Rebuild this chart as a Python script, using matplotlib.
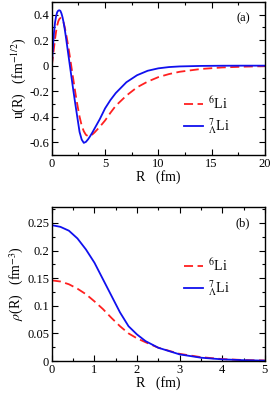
import numpy as np
import matplotlib
matplotlib.use('Agg')
import matplotlib.pyplot as plt
from matplotlib.ticker import MultipleLocator

# radial wave function u(R)
r_u = [0, 0.1, 0.2, 0.3, 0.4, 0.5, 0.6, 0.7, 0.8, 0.9, 1.0, 1.1, 1.2, 1.3, 1.4,
       1.5, 1.6, 1.7, 1.8, 1.9, 2.0, 2.2, 2.4, 2.6, 2.8, 3.0, 3.2, 3.4, 3.6, 3.8,
       4.0, 4.5, 5.0, 5.5, 6.0, 7.0, 8.0, 9.0, 10.0, 11.0, 12.0, 14.0, 16.0,
       18.0, 20.0]
u_li6 = [0, 0.07, 0.14, 0.21, 0.27, 0.315, 0.348, 0.366, 0.374, 0.372, 0.36,
         0.338, 0.305, 0.265, 0.22, 0.17, 0.12, 0.065, 0.01, -0.045, -0.10,
         -0.21, -0.31, -0.40, -0.47, -0.515, -0.543, -0.553, -0.55, -0.54,
         -0.525, -0.48, -0.43, -0.37, -0.315, -0.235, -0.17, -0.125, -0.09,
         -0.066, -0.048, -0.026, -0.014, -0.008, -0.004]
u_li7 = [0, 0.14, 0.26, 0.34, 0.39, 0.42, 0.432, 0.435, 0.43, 0.41, 0.38, 0.34,
         0.29, 0.235, 0.175, 0.115, 0.055, -0.005, -0.065, -0.125, -0.185,
         -0.30, -0.41, -0.52, -0.58, -0.606, -0.598, -0.578, -0.553, -0.525,
         -0.495, -0.42, -0.335, -0.27, -0.215, -0.13, -0.075, -0.04, -0.021,
         -0.011, -0.006, -0.002, -0.0005, 0.0, 0.0]

# density rho(R)
r_rho = [0, 0.2, 0.4, 0.6, 0.8, 1.0, 1.2, 1.4, 1.6, 1.8, 2.0, 2.2, 2.5, 3.0,
         3.5, 4.0, 4.5, 5.0]
rho_li6 = [0.146, 0.144, 0.139, 0.131, 0.121, 0.108, 0.094, 0.078, 0.063, 0.050,
           0.041, 0.034, 0.024, 0.013, 0.007, 0.0035, 0.0018, 0.001]
rho_li7 = [0.246, 0.243, 0.236, 0.222, 0.202, 0.178, 0.148, 0.118, 0.088, 0.063,
           0.048, 0.036, 0.024, 0.012, 0.006, 0.003, 0.0015, 0.0007]

labels = [r'$^{6}$Li', r'$^{7}_{\Lambda}$Li']

plt.rcParams['font.family'] = ['Liberation Serif', 'DejaVu Serif']
plt.rcParams['mathtext.fontset'] = 'stix'

fig = plt.figure(figsize=(2.73, 3.93), dpi=100)
ax1 = fig.add_axes([0.19, 0.606, 0.78, 0.389])
ax2 = fig.add_axes([0.19, 0.0814, 0.78, 0.392])

red = '#ff2020'
blue = '#1010ee'

ax1.plot(r_u, u_li6, color=red, lw=1.3, dashes=(5, 2.5), label=labels[0])
ax1.plot(r_u, u_li7, color=blue, lw=1.3, label=labels[1])
ax2.plot(r_rho, rho_li6, color=red, lw=1.3, dashes=(5, 2.5), label=labels[0])
ax2.plot(r_rho, rho_li7, color=blue, lw=1.3, label=labels[1])

# top panel
ax1.set_xlim(0, 20)
ax1.set_ylim(-0.7, 0.5)
ax1.set_xticks([0, 5, 10, 15, 20])
ax1.set_xticklabels(['0', '5', '10', '15', '20'])
ax1.xaxis.set_minor_locator(MultipleLocator(2.5))
ax1.set_yticks([-0.6, -0.4, -0.2, 0, 0.2, 0.4])
ax1.set_yticklabels(['-0.6', '-0.4', '-0.2', '0', '0.2', '0.4'])
ax1.yaxis.set_minor_locator(MultipleLocator(0.1))
ax1.set_xlabel('R   (fm)', fontsize=10, labelpad=0)
ax1.set_ylabel(r'u(R)   (fm$^{-1/2}$)', fontsize=10, labelpad=1)
ax1.text(0.93, 0.93, '(a)', transform=ax1.transAxes, ha='right', va='top', fontsize=9)

# bottom panel
ax2.set_xlim(0, 5)
ax2.set_ylim(0, 0.279)
ax2.set_xticks([0, 1, 2, 3, 4, 5])
ax2.set_xticklabels(['0', '1', '2', '3', '4', '5'])
ax2.xaxis.set_minor_locator(MultipleLocator(0.5))
ax2.set_yticks([0, 0.05, 0.1, 0.15, 0.2, 0.25])
ax2.set_yticklabels(['0', '0.05', '0.1', '0.15', '0.2', '0.25'])
ax2.yaxis.set_minor_locator(MultipleLocator(0.025))
ax2.set_xlabel('R   (fm)', fontsize=10, labelpad=0)
ax2.set_ylabel(r'$\rho$(R)   (fm$^{-3}$)', fontsize=10, labelpad=1)
ax2.text(0.93, 0.93, '(b)', transform=ax2.transAxes, ha='right', va='top', fontsize=9)

# ticks inside on all sides, frameless legends
legend_y = {ax1: 0.255, ax2: 0.54}
for ax in (ax1, ax2):
    ax.tick_params(which='both', direction='in', top=True, right=True, labelsize=9, pad=2)
    ax.tick_params(which='major', length=4, width=0.8)
    ax.tick_params(which='minor', length=2, width=0.8)
    for s in ax.spines.values():
        s.set_linewidth(1.0)
    ax.legend(loc='center left', bbox_to_anchor=(0.62, legend_y[ax]), frameon=False,
              fontsize=10, handlelength=1.4, handletextpad=0.3, labelspacing=0.3,
              borderpad=0, borderaxespad=0)

fig.savefig('out.png', dpi=100)
